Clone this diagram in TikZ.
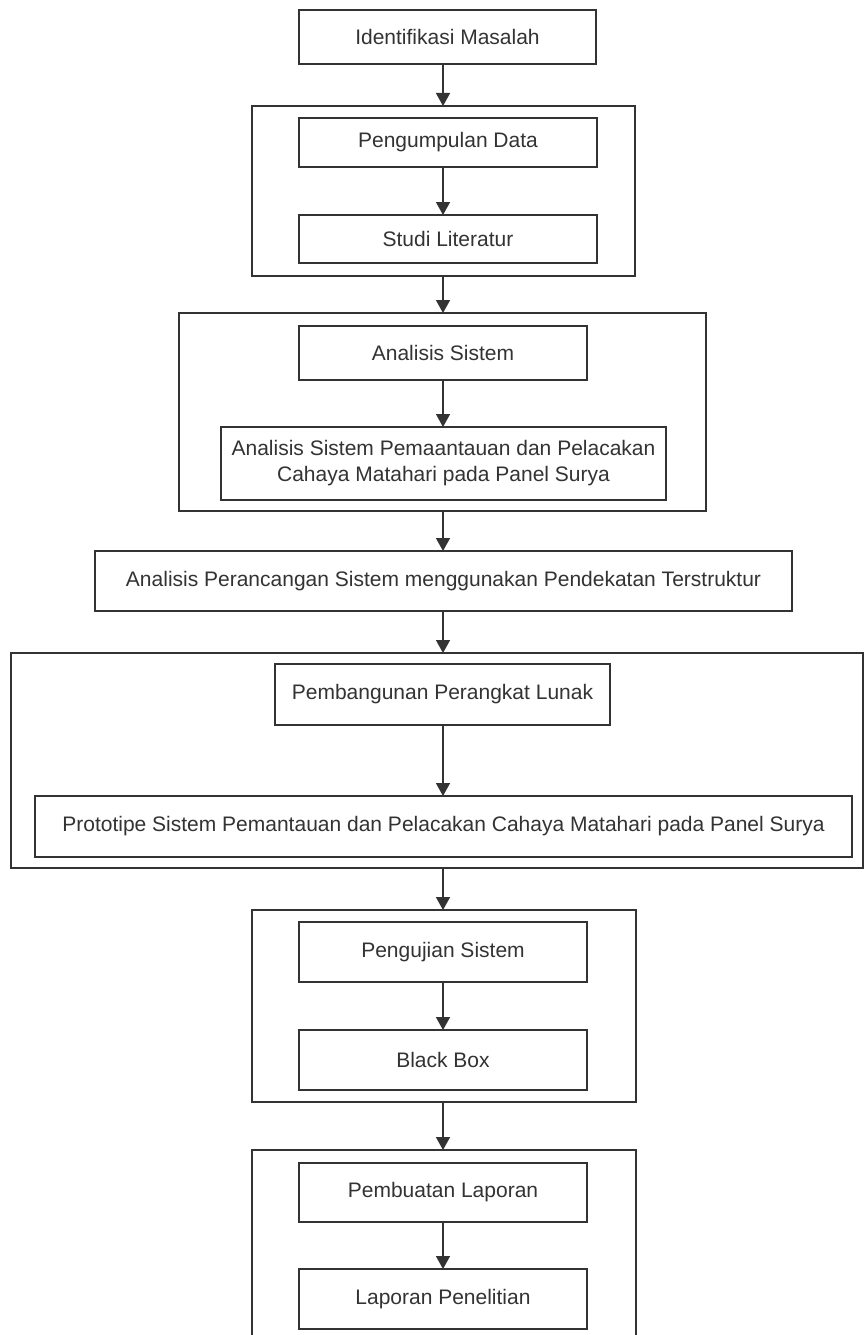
\documentclass[tikz,border=0pt]{standalone}
\usepackage{fontspec}
\setmainfont{Liberation Sans}
\usetikzlibrary{arrows.meta}
\definecolor{ink}{HTML}{333333}
\begin{document}
\begin{tikzpicture}[x=1pt,y=-1pt,
  box/.style={draw=ink, line width=1.8pt, inner sep=0pt, outer sep=0pt, text=ink,
    font=\fontsize{21}{26}\selectfont, align=center},
  frame/.style={box},
  arr/.style={draw=ink, line width=1.5pt, -{Triangle[length=13pt,width=14pt]}}]
\useasboundingbox (0,0) rectangle (864,1335);
\clip (0,0) rectangle (864,1335);
\fill[white] (0,0) rectangle (864,1335);
\coordinate (ax) at (443,0);
% group 1
\node[box, minimum width=297pt, minimum height=54pt] (idm) at (447.5,37) {Identifikasi Masalah};
\node[frame, minimum width=383pt, minimum height=170pt] (g1) at (443.5,191) {};
\node[box, minimum width=298pt, minimum height=49pt] (pd) at (448,142.5) {Pengumpulan Data};
\node[box, minimum width=298pt, minimum height=48pt] (sl) at (448,239) {Studi Literatur};
% group 2
\node[frame, minimum width=527pt, minimum height=198pt] (g2) at (442.5,412) {};
\node[box, minimum width=288pt, minimum height=54pt] (as) at (443,353) {Analisis Sistem};
\node[box, minimum width=445pt, minimum height=73pt] (asp) at (443.5,463.5) {Analisis Sistem Pemaantauan dan Pelacakan\\Cahaya Matahari pada Panel Surya};
% perancangan
\node[box, minimum width=697pt, minimum height=60pt] (apr) at (443.5,581) {Analisis Perancangan Sistem menggunakan Pendekatan Terstruktur};
% group 3
\node[frame, minimum width=852pt, minimum height=215pt] (g3) at (437,760.5) {};
\node[box, minimum width=335pt, minimum height=61pt] (ppl) at (442.5,694.5) {Pembangunan Perangkat Lunak};
\node[box, minimum width=817pt, minimum height=61pt] (proto) at (443.5,826.5) {Prototipe Sistem Pemantauan dan Pelacakan Cahaya Matahari pada Panel Surya};
% group 4
\node[frame, minimum width=384pt, minimum height=192pt] (g4) at (444,1006) {};
\node[box, minimum width=288pt, minimum height=60pt] (ps) at (443,952) {Pengujian Sistem};
\node[box, minimum width=288pt, minimum height=60pt] (bb) at (443,1060) {Black Box};
% group 5
\node[frame, minimum width=384pt, minimum height=200pt] (g5) at (444,1250) {};
\node[box, minimum width=288pt, minimum height=59pt] (pl) at (443,1192.5) {Pembuatan Laporan};
\node[box, minimum width=288pt, minimum height=60pt] (lp) at (443,1299) {Laporan Penelitian};
% connectors
\draw[arr] (idm.south -| ax) -- (g1.north -| ax);
\draw[arr] (pd.south -| ax) -- (sl.north -| ax);
\draw[arr] (g1.south -| ax) -- (g2.north -| ax);
\draw[arr] (as.south -| ax) -- (asp.north -| ax);
\draw[arr] (g2.south -| ax) -- (apr.north -| ax);
\draw[arr] (apr.south -| ax) -- (g3.north -| ax);
\draw[arr] (ppl.south -| ax) -- (proto.north -| ax);
\draw[arr] (g3.south -| ax) -- (g4.north -| ax);
\draw[arr] (ps.south -| ax) -- (bb.north -| ax);
\draw[arr] (g4.south -| ax) -- (g5.north -| ax);
\draw[arr] (pl.south -| ax) -- (lp.north -| ax);
\end{tikzpicture}
\end{document}
